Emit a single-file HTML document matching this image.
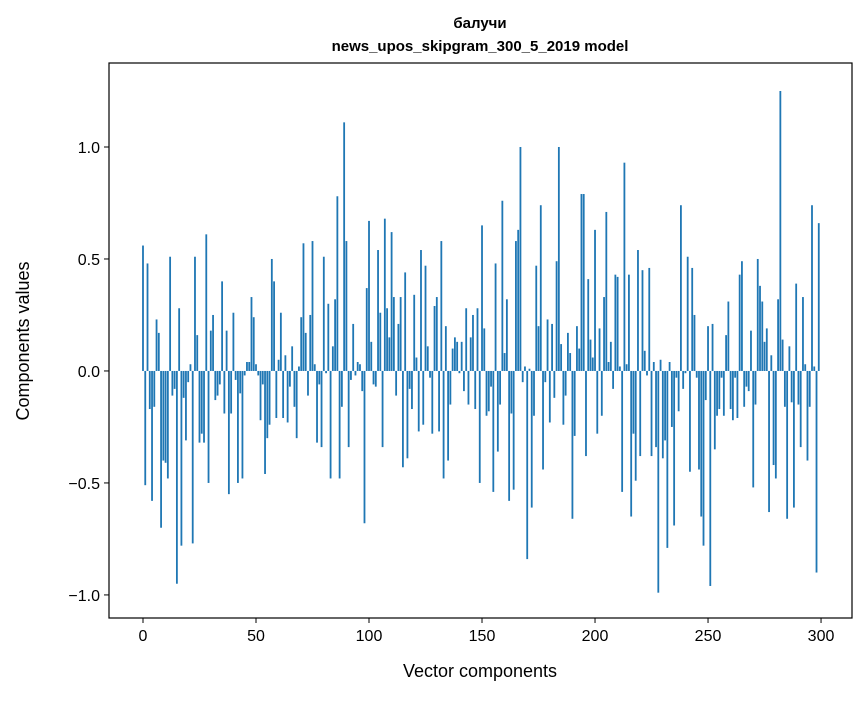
<!DOCTYPE html>
<html><head><meta charset="utf-8"><style>
body{margin:0;background:#fff;font-family:"Liberation Sans","DejaVu Sans",sans-serif}
</style></head><body>
<svg id="chart" width="867" height="696" xmlns="http://www.w3.org/2000/svg" font-family="Liberation Sans, DejaVu Sans, sans-serif">
<rect width="867" height="696" fill="#fff"/>
<text x="480" y="28" text-anchor="middle" font-size="15" font-weight="bold">балучи</text>
<text x="480" y="51" text-anchor="middle" font-size="15" font-weight="bold">news_upos_skipgram_300_5_2019 model</text>
<g id="bars"></g>
<g id="axes"></g>
<text x="480" y="677" text-anchor="middle" font-size="18">Vector components</text>
<text transform="translate(29,341) rotate(-90)" text-anchor="middle" font-size="18">Components values</text>
</svg>
<script>
const values = [0.56,-0.51,0.48,-0.17,-0.58,-0.16,0.23,0.17,-0.70,-0.40,-0.41,-0.48,0.51,-0.11,-0.08,-0.95,0.28,-0.78,-0.12,-0.31,-0.05,0.03,-0.77,0.51,0.16,-0.32,-0.28,-0.32,0.61,-0.50,0.18,0.25,-0.13,-0.11,-0.06,0.40,-0.19,0.18,-0.55,-0.19,0.26,-0.04,-0.50,-0.10,-0.48,-0.02,0.04,0.04,0.33,0.24,0.03,-0.02,-0.22,
-0.06,-0.46,-0.30,-0.24,0.50,0.40,-0.21,0.05,0.26,-0.21,0.07,-0.23,-0.07,0.11,-0.16,-0.30,0.02,0.24,0.57,0.17,-0.11,0.25,0.58,0.03,-0.32,-0.06,-0.34,0.51,-0.01,0.30,-0.48,0.11,0.32,0.78,-0.48,-0.16,1.11,0.58,-0.34,-0.04,0.21,-0.02,0.04,0.03,-0.09,-0.68,0.37,0.67,0.13,
-0.06,-0.07,0.54,0.26,-0.34,0.68,0.28,0.15,0.62,0.33,-0.11,0.21,0.33,-0.43,0.44,-0.39,-0.08,-0.17,0.34,0.06,-0.27,0.54,-0.24,0.47,0.11,-0.03,-0.28,0.29,0.33,-0.27,0.58,-0.48,0.20,-0.40,-0.15,0.10,0.15,0.13,-0.01,0.13,-0.09,0.28,-0.15,0.15,0.25,-0.17,0.28,-0.50,0.65,0.19,
-0.20,-0.18,-0.07,-0.54,0.48,-0.36,-0.15,0.76,0.08,0.32,-0.58,-0.19,-0.53,0.58,0.63,1.00,-0.05,0.02,-0.84,0.01,-0.61,-0.20,0.47,0.20,0.74,-0.44,-0.05,0.23,-0.23,0.21,-0.12,0.49,1.00,0.12,-0.24,-0.11,0.17,0.08,-0.66,-0.29,0.20,0.10,0.79,0.79,-0.38,0.41,0.14,0.06,0.63,
-0.28,0.19,-0.20,0.33,0.71,0.04,0.13,-0.08,0.43,0.42,0.02,-0.54,0.93,0.03,0.43,-0.65,-0.28,-0.49,0.54,-0.38,0.45,0.09,-0.02,0.46,-0.38,0.04,-0.34,-0.99,0.05,-0.39,-0.31,-0.79,0.04,-0.25,-0.69,-0.03,-0.18,0.74,-0.08,-0.01,0.51,-0.45,0.46,0.25,-0.03,-0.44,-0.65,-0.78,-0.13,0.20,
-0.96,0.21,-0.35,-0.20,-0.17,-0.03,-0.20,0.16,0.31,-0.17,-0.22,-0.03,-0.21,0.43,0.49,-0.16,-0.07,-0.09,0.18,-0.52,-0.15,0.50,0.38,0.31,0.13,0.19,-0.63,0.07,-0.42,-0.48,0.32,1.25,0.14,-0.16,-0.66,0.11,-0.14,-0.61,0.39,-0.15,-0.34,0.33,0.03,-0.40,-0.16,0.74,0.02,-0.90,0.66];
const xTicks = [0,50,100,150,200,250,300];
const yTicks = [-1.0,-0.5,0.0,0.5,1.0];
const yTickLabels = ["\u22121.0","\u22120.5","0.0","0.5","1.0"];

const L=109,R=852,T=63,B=618;
const xMin=-15.04,xMax=313.7,yMin=-1.103,yMax=1.375;
const xs=v=>L+(v-xMin)/(xMax-xMin)*(R-L);
const ys=v=>B-(v-yMin)/(yMax-yMin)*(B-T);
const NS="http://www.w3.org/2000/svg";
const bars=document.getElementById('bars');
values.forEach((v,i)=>{
  const r=document.createElementNS(NS,'rect');
  const x0=xs(i-0.4),x1=xs(i+0.4);
  const y0=ys(Math.max(v,0)),y1=ys(Math.min(v,0));
  r.setAttribute('x',x0);r.setAttribute('width',x1-x0);
  r.setAttribute('y',y0);r.setAttribute('height',Math.max(y1-y0,0.3));
  r.setAttribute('fill','#1f77b4');
  
  
  bars.appendChild(r);
});
const ax=document.getElementById('axes');
const frame=document.createElementNS(NS,'rect');
frame.setAttribute('x',L);frame.setAttribute('y',T);frame.setAttribute('width',R-L);frame.setAttribute('height',B-T);
frame.setAttribute('fill','none');frame.setAttribute('stroke','#000');frame.setAttribute('stroke-width','1.2');


ax.appendChild(frame);
xTicks.forEach(t=>{
  const x=xs(t);
  const l=document.createElementNS(NS,'line');
  l.setAttribute('x1',x);l.setAttribute('x2',x);l.setAttribute('y1',B);l.setAttribute('y2',B+5);l.setAttribute('stroke','#000');
  
  
  ax.appendChild(l);
  const tx=document.createElementNS(NS,'text');
  tx.setAttribute('x',x);tx.setAttribute('y',B+23);tx.setAttribute('text-anchor','middle');tx.setAttribute('font-size','16');
  tx.textContent=t;
  
  
  ax.appendChild(tx);
});
yTicks.forEach((t,i)=>{
  const y=ys(t);
  const l=document.createElementNS(NS,'line');
  l.setAttribute('x1',L-5);l.setAttribute('x2',L);l.setAttribute('y1',y);l.setAttribute('y2',y);l.setAttribute('stroke','#000');
  
  
  ax.appendChild(l);
  const tx=document.createElementNS(NS,'text');
  tx.setAttribute('x',L-9);tx.setAttribute('y',y+6);tx.setAttribute('text-anchor','end');tx.setAttribute('font-size','16');
  tx.textContent=yTickLabels[i];
  
  
  ax.appendChild(tx);
});
</script>
</body></html>
